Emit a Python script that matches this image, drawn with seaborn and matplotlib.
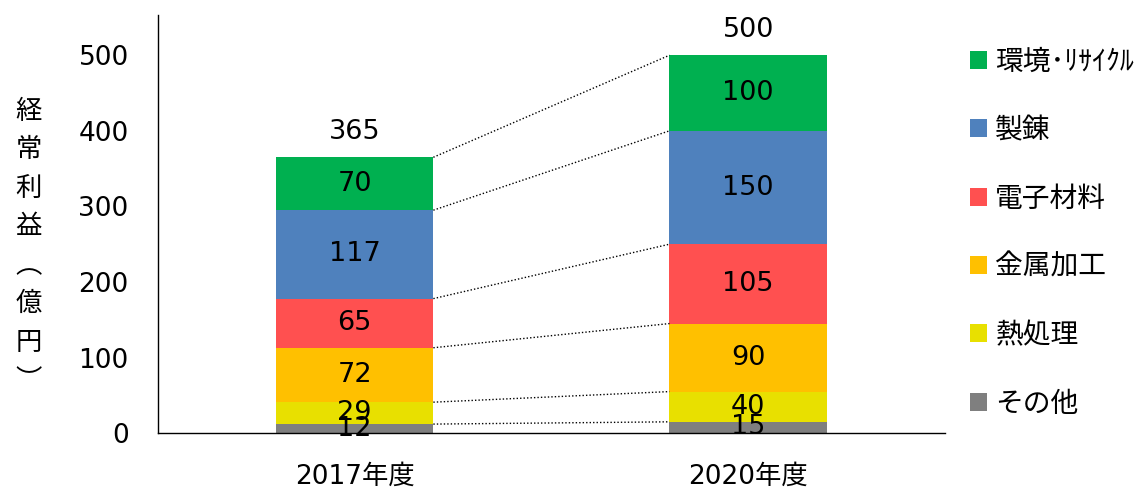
import seaborn as sns
import matplotlib.pyplot as plt
from matplotlib.patches import Patch
import numpy as np

# Data (億円)
categories = ["2017年度", "2020年度"]
series = ["その他", "熱処理", "金属加工", "電子材料", "製錬", "環境･ﾘｻｲｸﾙ"]
values = {
    "その他": [12, 15],
    "熱処理": [29, 40],
    "金属加工": [72, 90],
    "電子材料": [65, 105],
    "製錬": [117, 150],
    "環境･ﾘｻｲｸﾙ": [70, 100],
}
totals = [365, 500]
colors = ["#7F7F7F", "#E8E000", "#FFC000", "#FF5050", "#4F81BD", "#00B050"]

sns.set_theme(style="white")
plt.rcParams["font.family"] = ["DejaVu Sans", "Noto Sans CJK JP"]
plt.rcParams["text.color"] = "black"
plt.rcParams["xtick.color"] = "black"
plt.rcParams["ytick.color"] = "black"

fig = plt.figure(figsize=(11.44, 4.9), dpi=100)
ax = fig.add_axes([0.138, 0.116, 0.688, 0.853])

width = 0.4
bottoms = np.zeros(len(categories))
tops = []
for name, col in zip(series, colors):
    vals = np.array(values[name], dtype=float)
    sns.barplot(x=categories, y=vals, bottom=bottoms, color=col, width=width,
                saturation=1, ax=ax, edgecolor="none")
    for i, v in enumerate(vals):
        ax.text(i, bottoms[i] + v / 2, f"{int(v)}", ha="center", va="center",
                fontsize=19.5, color="black")
    bottoms = bottoms + vals
    tops.append(bottoms.copy())

# dotted connectors between segment tops
for t in tops:
    ax.plot([width / 2, 1 - width / 2], [t[0], t[1]], color="black",
            linestyle=(0, (1, 1.5)), linewidth=1)

for i, tot in enumerate(totals):
    ax.text(i, tot + 33, str(tot), ha="center", va="center", fontsize=19.5)

ax.set_xlim(-0.5, 1.5)
ax.set_ylim(0, 553)
ax.set_yticks(range(0, 501, 100))
ax.tick_params(axis="both", length=0, labelsize=19)
ax.tick_params(axis="x", pad=22)
ax.tick_params(axis="y", pad=21)
for s in ["top", "right"]:
    ax.spines[s].set_visible(False)
for s in ["left", "bottom"]:
    ax.spines[s].set_color("black")
    ax.spines[s].set_linewidth(1)
ax.set_xlabel("")
ax.set_ylabel("")

ylab = "\n".join(["経", "常", "利", "益", "︵", "億", "円", "︶"])
fig.text(0.025, 0.498, ylab, ha="center", va="center", fontsize=19,
         linespacing=1.55, family=["Noto Sans CJK JP", "DejaVu Sans"])

handles = [Patch(facecolor=c, edgecolor="none") for c in colors][::-1]
fig.legend(handles, series[::-1], loc="upper left", bbox_to_anchor=(0.838, 0.927),
           frameon=False, handlelength=0.62, handleheight=0.62,
           handletextpad=0.3, labelspacing=1.38, borderaxespad=0,
           prop={"family": ["Noto Sans CJK JP", "DejaVu Sans"], "size": 20})

fig.savefig("out.png", dpi=100)
